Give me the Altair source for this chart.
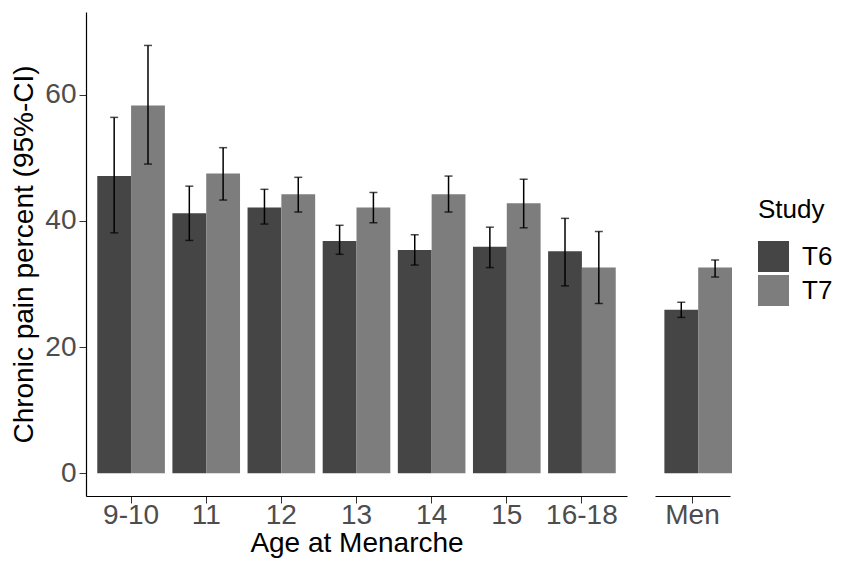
import altair as alt
import pandas as pd

ages = ["9-10", "11", "12", "13", "14", "15", "16-18"]
studies = ["T6", "T7"]
t6_pct = [47.1, 41.2, 42.1, 36.8, 35.4, 35.9, 35.2]
t6_lo = [38.1, 36.9, 39.5, 34.7, 33.0, 32.6, 29.7]
t6_hi = [56.4, 45.5, 45.0, 39.3, 37.8, 39.0, 40.4]
t7_pct = [58.3, 47.5, 44.2, 42.1, 44.2, 42.8, 32.6]
t7_lo = [49.0, 43.3, 41.4, 39.7, 41.4, 38.9, 26.9]
t7_hi = [67.8, 51.6, 46.9, 44.5, 47.1, 46.6, 38.3]
men_groups = ["Men"]
men_pct = [25.9, 32.6]
men_lo = [24.7, 31.1]
men_hi = [27.1, 33.8]

rows = []
for i, a in enumerate(ages):
    rows.append(dict(group=a, Study="T6", pct=t6_pct[i], lo=t6_lo[i], hi=t6_hi[i]))
    rows.append(dict(group=a, Study="T7", pct=t7_pct[i], lo=t7_lo[i], hi=t7_hi[i]))
women = pd.DataFrame(rows)
men = pd.DataFrame([
    dict(group="Men", Study=s, pct=men_pct[j], lo=men_lo[j], hi=men_hi[j])
    for j, s in enumerate(studies)
])

FONT = "Liberation Sans"
ydom = [-3.6, 73.1]

color = alt.Color(
    "Study:N",
    scale=alt.Scale(domain=studies, range=["#454545", "#7d7d7d"]),
    legend=alt.Legend(
        title="Study", orient="none", legendX=672, legendY=185,
        titleFontSize=26, titleFont=FONT, titleColor="black", titleFontWeight="normal",
        labelFontSize=26, labelFont=FONT, labelColor="black", labelOffset=13,
        symbolType="square", symbolSize=961, symbolStrokeWidth=0, symbolOpacity=1,
        rowPadding=3, titlePadding=18, padding=0,
    ),
)


def panel(df, order, width, show_y, xtitle):
    xaxis = alt.Axis(
        title=xtitle, labelAngle=0, labelFontSize=28, labelFont=FONT, labelColor="#4D4D4D",
        titleFontSize=28, titleFont=FONT, titleColor="black", titleFontWeight="normal",
        tickSize=7, tickColor="#333333", domainColor="black", domainWidth=1.2,
        labelPadding=-2, titlePadding=0,
    )
    x = alt.X("group:N", sort=order, axis=xaxis,
              scale=alt.Scale(paddingInner=0.1, paddingOuter=0.15))
    xo = alt.XOffset("Study:N", sort=studies)
    if show_y:
        yaxis = alt.Axis(
            title="Chronic pain percent (95%-CI)", values=[0, 20, 40, 60],
            labelFontSize=28, labelFont=FONT, labelColor="#4D4D4D",
            titleFontSize=28, titleFont=FONT, titleColor="black", titleFontWeight="normal",
            tickSize=7, tickColor="#333333", domainColor="black", domainWidth=1.2,
            labelPadding=3, titlePadding=6, grid=False,
        )
    else:
        yaxis = None
    ysc = alt.Scale(domain=ydom, nice=False, zero=False)
    base = alt.Chart(df)
    bars = base.mark_bar().encode(
        x=x, xOffset=xo, y=alt.Y("pct:Q", scale=ysc, axis=yaxis), color=color)
    rules = base.mark_rule(color="black", strokeWidth=1.5).encode(
        x=x, xOffset=xo, y=alt.Y("lo:Q", scale=ysc, axis=yaxis), y2="hi:Q")
    cap_hi = base.mark_tick(color="black", size=8, thickness=1.5, orient="horizontal").encode(
        x=x, xOffset=xo, y=alt.Y("hi:Q", scale=ysc, axis=yaxis))
    cap_lo = base.mark_tick(color="black", size=8, thickness=1.5, orient="horizontal").encode(
        x=x, xOffset=xo, y=alt.Y("lo:Q", scale=ysc, axis=yaxis))
    return alt.layer(bars, rules, cap_hi, cap_lo).properties(width=width, height=484)


left = panel(women, ages, 541, True, "Age at Menarche")
right = panel(men, men_groups, 75, False, None)

chart = alt.hconcat(left, right, spacing=28).properties(
    padding={"left": 2, "top": 4, "right": 0, "bottom": 2}
).configure_view(stroke=None).configure_axis(grid=False)

chart.save("out.html", embed_options={"renderer": "svg", "actions": False})
